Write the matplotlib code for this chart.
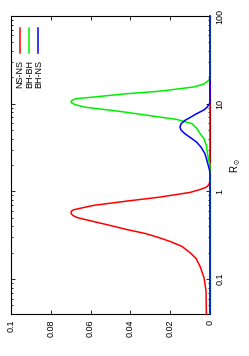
import numpy as np
import matplotlib
matplotlib.use("Agg")
import matplotlib.pyplot as plt
from matplotlib.ticker import LogLocator, NullFormatter, FixedLocator

plt.rcParams['font.family'] = ['Liberation Sans', 'DejaVu Sans']
plt.rcParams['mathtext.default'] = 'regular'

# ---- data ----
series_names = ["NS-NS", "BH-BH", "BH-NS"]
series_colors = ["#ff0000", "#00f000", "#0000ff"]

red_R = [0.04, 0.074, 0.104, 0.14, 0.172, 0.201, 0.236, 0.269, 0.300, 0.332, 0.369,
         0.41, 0.455, 0.501, 0.53, 0.555, 0.58, 0.60, 0.618, 0.692, 0.775, 0.861, 0.974,
         1.05, 1.12, 1.2, 1.3, 100]
red_v = [0.0018, 0.0020, 0.0030, 0.0050, 0.0070, 0.0101, 0.0141, 0.0201, 0.0262, 0.0327,
         0.0422, 0.0503, 0.0588, 0.0665, 0.0688, 0.0697, 0.0698, 0.0695, 0.0685, 0.0586,
         0.0419, 0.0251, 0.0100, 0.0050, 0.0017, 0.0005, 0.0, 0.0]

green_R = [0.04, 2.0, 2.36, 2.69, 3.35, 4.0, 4.5, 5.2, 5.92, 6.62, 7.22, 8.17, 9.15,
           9.8, 10.3, 10.8, 11.4, 11.9, 13.0, 13.9, 15.5, 16.8, 18.4, 19.5, 100]
green_v = [0.0, 0.0, 0.0008, 0.0012, 0.0018, 0.0030, 0.0048, 0.0065, 0.0090, 0.0167,
           0.0285, 0.0452, 0.0630, 0.0680, 0.0697, 0.0697, 0.0675, 0.0586, 0.0419, 0.0251,
           0.0084, 0.0030, 0.0008, 0.0, 0.0]

blue_R = [0.04, 1.6, 1.74, 2.16, 2.69, 3.2, 3.65, 4.1, 4.55, 5.0, 5.41, 5.9, 6.45,
          7.0, 7.69, 8.5, 9.1, 9.6, 10.2, 100]
blue_v = [0.0, 0.0, 0.0002, 0.0013, 0.0025, 0.0045, 0.0067, 0.0098, 0.0126, 0.0145,
          0.0151, 0.0145, 0.0126, 0.0098, 0.0067, 0.0030, 0.0015, 0.0008, 0.0, 0.0]

value_ticks = [0.0, 0.02, 0.04, 0.06, 0.08, 0.1]
value_labels = ["0", "0.02", "0.04", "0.06", "0.08", "0.1"]
R_ticks = [0.1, 1, 10, 100]
R_labels = ["0.1", "1", "10", "100"]
R_label = r"R$_\odot$"

# ---- figure ----
fig = plt.figure(figsize=(2.49, 3.56), dpi=100)
ax = fig.add_axes([0.0442, 0.118, 0.799, 0.837])

for v, R, c in zip([red_v, green_v, blue_v], [red_R, green_R, blue_R], series_colors):
    ax.plot(v, R, color=c, lw=1.1, clip_on=False, zorder=3, solid_joinstyle='round')

ax.set_yscale('log')
ax.set_ylim(0.04, 100)
ax.set_xlim(0.1, 0.0)

ax.set_xticks(value_ticks)
ax.set_xticklabels(value_labels, rotation=90)
ax.tick_params(axis='x', which='both', direction='in', top=True, bottom=True,
               length=3, width=0.6, labelsize=6.5, pad=4)

ax.yaxis.set_major_locator(FixedLocator(R_ticks))
ax.set_yticklabels(R_labels, rotation=90, va='center')
ax.yaxis.set_minor_locator(LogLocator(base=10, subs=np.arange(2, 10)))
ax.yaxis.set_minor_formatter(NullFormatter())
ax.tick_params(axis='y', which='both', direction='in', left=True, right=True,
               labelleft=False, labelright=True, width=0.6, labelsize=6.5, pad=4)
ax.tick_params(axis='y', which='major', length=3)
ax.tick_params(axis='y', which='minor', length=1.5)
ax.yaxis.set_label_position('right')
ax.set_ylabel(R_label, rotation=90, fontsize=7, labelpad=3)

for s in ax.spines.values():
    s.set_linewidth(0.8)

# legend (gnuplot style, rotated)
leg_x = [0.045, 0.092, 0.137]
for name, c, x in zip(series_names, series_colors, leg_x):
    ax.plot([x, x], [0.959, 0.875], color=c, lw=1.1, transform=ax.transAxes)
    ax.text(x, 0.852, name, rotation=90, ha='center', va='top',
            fontsize=6.5, transform=ax.transAxes)

fig.savefig('out.png', dpi=100)
